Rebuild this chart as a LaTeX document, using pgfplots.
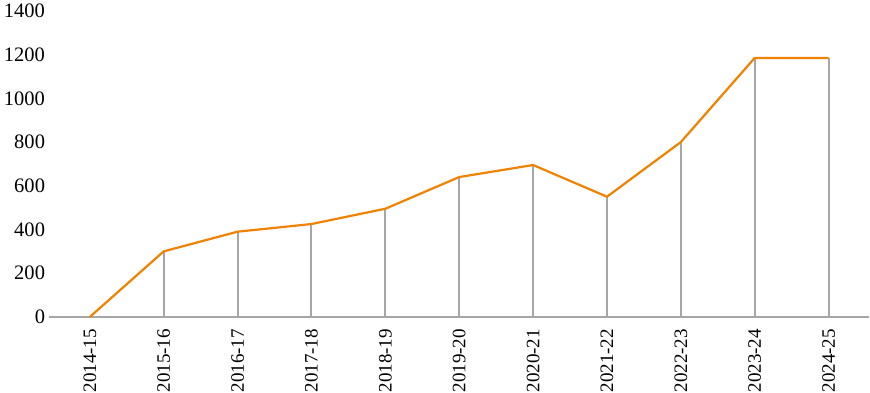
\documentclass[border=0pt]{standalone}
\usepackage{pgfplots}
\pgfplotsset{compat=1.18}
\usepackage{fontspec}
\setmainfont{Liberation Serif}
\definecolor{lineorange}{RGB}{240,130,0}
\definecolor{dropgray}{RGB}{166,166,166}
\begin{document}
\begin{tikzpicture}
\begin{axis}[
  scale only axis,
  width=820pt, height=306pt,
  xmin=-0.55, xmax=10.55,
  ymin=0, ymax=1400,
  ytick={0,200,...,1400},
  xtick={0,...,10},
  xticklabels={2014-15,2015-16,2016-17,2017-18,2018-19,2019-20,2020-21,2021-22,2022-23,2023-24,2024-25},
  axis lines=left,
  axis line style={-},
  y axis line style={draw=none},
  x axis line style={dropgray, line width=1.5pt},
  major tick length=0pt,
  xtick style={draw=none}, ytick style={draw=none},
  xticklabel style={rotate=90, anchor=east, inner sep=0pt, font=\fontsize{19}{23}\selectfont},
  xticklabel shift=12pt,
  yticklabel style={inner sep=4pt, font=\fontsize{20.5}{24}\selectfont},
  /pgf/number format/assume math mode=true,
  /pgf/number format/1000 sep={},
  clip=false,
]
\addplot[ycomb, dropgray, line width=2pt, mark=none] coordinates {
  (1,300) (2,390) (3,425) (4,495) (5,640) (6,695) (7,550) (8,800) (9,1185) (10,1185)
};
\addplot[lineorange, line width=2.2pt, mark=none, line join=round] coordinates {
  (0,0) (1,300) (2,390) (3,425) (4,495) (5,640) (6,695) (7,550) (8,800) (9,1185) (10,1185)
};
\end{axis}
\end{tikzpicture}
\end{document}
